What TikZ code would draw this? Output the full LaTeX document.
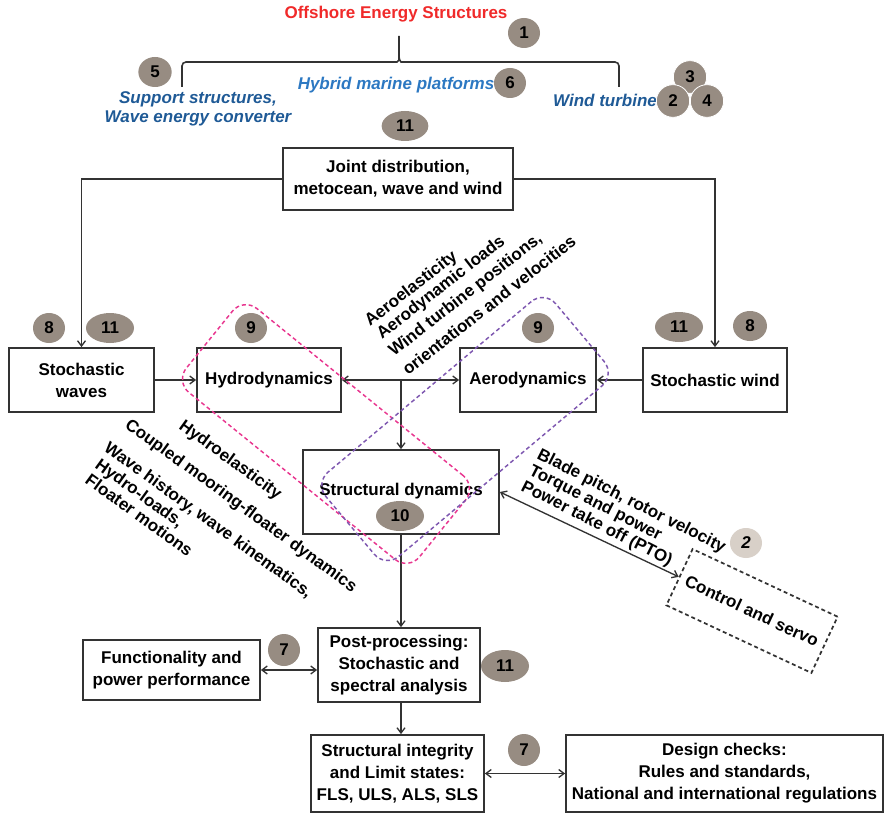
\documentclass[tikz,border=0pt]{standalone}
\usepackage{fontspec}
\setmainfont{Liberation Sans}
\usetikzlibrary{arrows.meta,shapes.geometric}
\definecolor{badgec}{HTML}{978C82}
\definecolor{badgelight}{HTML}{D8D0C8}
\definecolor{boxc}{HTML}{333333}
\definecolor{titlered}{HTML}{F02A2A}
\definecolor{darkblue}{HTML}{1F5A96}
\definecolor{midblue}{HTML}{2C78C2}
\definecolor{pinkc}{HTML}{E8368F}
\definecolor{purplec}{HTML}{7E57B0}
\newcommand\lbl{\fontsize{12.75}{16.5}\selectfont\bfseries}
\newcommand\lbli{\fontsize{12.75}{14}\selectfont\bfseries\itshape}
\begin{document}
\begin{tikzpicture}[x=0.75pt,y=-0.75pt,
  box/.style={draw=boxc, line width=1.3pt, inner sep=0pt, align=center, font=\lbl},
  badge/.style={ellipse, fill=badgec, inner sep=0pt, font=\lbl, minimum width=24pt, minimum height=22.5pt},
  wbadge/.style={badge, minimum width=36pt},
  arr/.style={line width=1pt, draw=boxc, -{Straight Barb[length=4pt,width=6pt]}},
  darr/.style={line width=1pt, draw=boxc, {Straight Barb[length=4pt,width=6pt]}-{Straight Barb[length=4pt,width=6pt]}},
  rotlbl/.style={anchor=base west, inner sep=0pt, font=\lbl},
  zone/.style={dashed, dash pattern=on 3pt off 2.2pt, line width=1.1pt, rounded corners=13pt, minimum width=225pt, inner sep=0pt}
]
\useasboundingbox (0,0) rectangle (886,817);

% ---- top part
\node[font=\lbl, text=titlered] (title) at (396,14) {Offshore Energy Structures};
\node[badge] (b1) at (524,33) {1};
\draw[line width=1.2pt, draw=boxc, rounded corners=3pt] (182,87) -- (182,62) -- (393,62) .. controls (397,62) and (399,60) .. (399,56) -- (399,36);
\draw[line width=1.2pt, draw=boxc, rounded corners=3pt] (399,56) .. controls (399,60) and (401,62) .. (405,62) -- (619,62) -- (619,87);
\node[badge, minimum width=25pt] (b5) at (155,72) {5};
\node[font=\lbli, text=darkblue, align=center, inner sep=0pt] (support) at (198,109) {Support structures,\\Wave energy converter};
\node[font=\lbli, text=midblue, inner sep=0pt] (hybrid) at (396,85) {Hybrid marine platforms};
\node[badge] (b6) at (510,83) {6};
\node[font=\lbli, text=darkblue, inner sep=0pt] (windt) at (605,100) {Wind turbine};
\node[badge, draw=white, line width=0.6pt, minimum width=25pt, minimum height=24.5pt] (b3) at (690,77) {3};
\node[badge, draw=white, line width=0.6pt, minimum width=25pt, minimum height=24.5pt] (b2) at (673,101) {2};
\node[badge, draw=white, line width=0.6pt, minimum width=25pt, minimum height=24.5pt] (b4) at (707,101) {4};

% ---- joint distribution
\node[wbadge, minimum width=35pt] (b11a) at (405,126) {11};
\node[box, minimum width=172.5pt, minimum height=46.5pt] (joint) at (398,179) {Joint distribution,\\metocean, wave and wind};

% ---- second row
\node[badge] (b8a) at (49,328) {8};
\node[wbadge] (b11b) at (110,328) {11};
\node[badge] (b9a) at (251,328) {9};
\node[badge] (b9b) at (538,328) {9};
\node[wbadge] (b11c) at (679,327) {11};
\node[badge, minimum width=25.5pt] (b8b) at (750,326) {8};

\node[box, minimum width=108.75pt, minimum height=48pt] (waves) at (81.5,380) {Stochastic\\waves};
\node[box, minimum width=108pt, minimum height=48pt] (hydro) at (269,380) {Hydrodynamics};
\node[box, minimum width=102pt, minimum height=48pt] (aero) at (528,380) {Aerodynamics};
\node[box, minimum width=108pt, minimum height=48pt] (wind) at (715,380) {Stochastic wind};

\draw[arr] (joint.west) -| (waves.north);
\draw[arr] (joint.east) -| (wind.north);
\draw[arr] (waves.east) -- (hydro.west);
\draw[arr] (wind.west) -- (aero.east);
\draw[darr] (hydro.east) -- (aero.west);

% ---- structural dynamics
\node[box, minimum width=147pt, minimum height=63pt] (sd) at (401,492) {};
\node[font=\lbl, inner sep=0pt] (sdtext) at (401,491) {Structural dynamics};
\node[wbadge] (b10) at (400,516) {10};
\coordinate (jn) at (hydro.east -| sd.north);
\draw[arr] (jn) -- (sd.north);

% ---- rotated labels (aero)
\node[rotlbl, rotate=38] (a1) at (370,327) {Aeroelasticity};
\node[rotlbl, rotate=38] (a2) at (382,340) {Aerodynamic loads};
\node[rotlbl, rotate=38] (a3) at (394,357) {Wind turbine positions,};
\node[rotlbl, rotate=38] (a4) at (408,376) {orientations and velocities};

% ---- rotated labels (hydro)
\node[rotlbl, rotate=-36] (h1) at (178,428) {Hydroelasticity};
\node[rotlbl, rotate=-36] (h2) at (124,427) {Coupled mooring-floater dynamics};
\node[rotlbl, rotate=-36] (h3) at (103,450) {Wave history, wave kinematics,};
\node[rotlbl, rotate=-36] (h4) at (94,467) {Hydro-loads,};
\node[rotlbl, rotate=-36] (h5) at (84,482) {Floater motions};

% ---- control
\node[box, dashed, dash pattern=on 3pt off 2.2pt, rotate=-25, minimum width=120pt, minimum height=46.5pt] (ctrl) at (752,611) {Control and servo};
\draw[darr] (sd.east) -- (ctrl.west);
\node[rotlbl, rotate=-27] (bl1) at (536,458) {Blade pitch, rotor velocity};
\node[rotlbl, rotate=-27] (bl2) at (528,474) {Torque and power};
\node[rotlbl, rotate=-27] (bl3) at (520,490) {Power take off (PTO)};
\node[badge, fill=badgelight, font=\lbli] (b2b) at (746,543) {2};

% ---- bottom
\node[box, minimum width=132.75pt, minimum height=45pt] (func) at (171.5,670) {Functionality and\\power performance};
\node[box, minimum width=121.5pt, minimum height=55.5pt] (post) at (399,665) {Post-processing:\\Stochastic and\\spectral analysis};
\node[badge, minimum height=24pt] (b7a) at (284,650) {7};
\node[wbadge, minimum height=24pt] (b11d) at (505,666) {11};
\node[box, minimum width=129.75pt, minimum height=57.75pt] (si) at (397.5,773.5) {Structural integrity\\and Limit states:\\FLS, ULS, ALS, SLS};
\node[box, minimum width=237.75pt, minimum height=57.75pt] (dc) at (724.5,773.5) {Design checks:\\Rules and standards,\\National and international regulations};
\node[badge, minimum height=24pt] (b7b) at (524,750) {7};

\draw[arr] (sd.south) -- (sd.south |- post.north);
\draw[darr] (func.east) -- (func.east -| post.west);
\draw[arr] (post.south -| sd.south) -- (sd.south |- si.north);
\draw[darr] (si.east) -- (si.east -| dc.west);

% ---- dashed zones
\node[zone, draw=pinkc, rotate=-39, minimum height=81pt] (pinkzone) at (326,434) {};
\node[zone, draw=purplec, rotate=40, minimum height=82.5pt] (purplezone) at (465,429) {};
\end{tikzpicture}
\end{document}
